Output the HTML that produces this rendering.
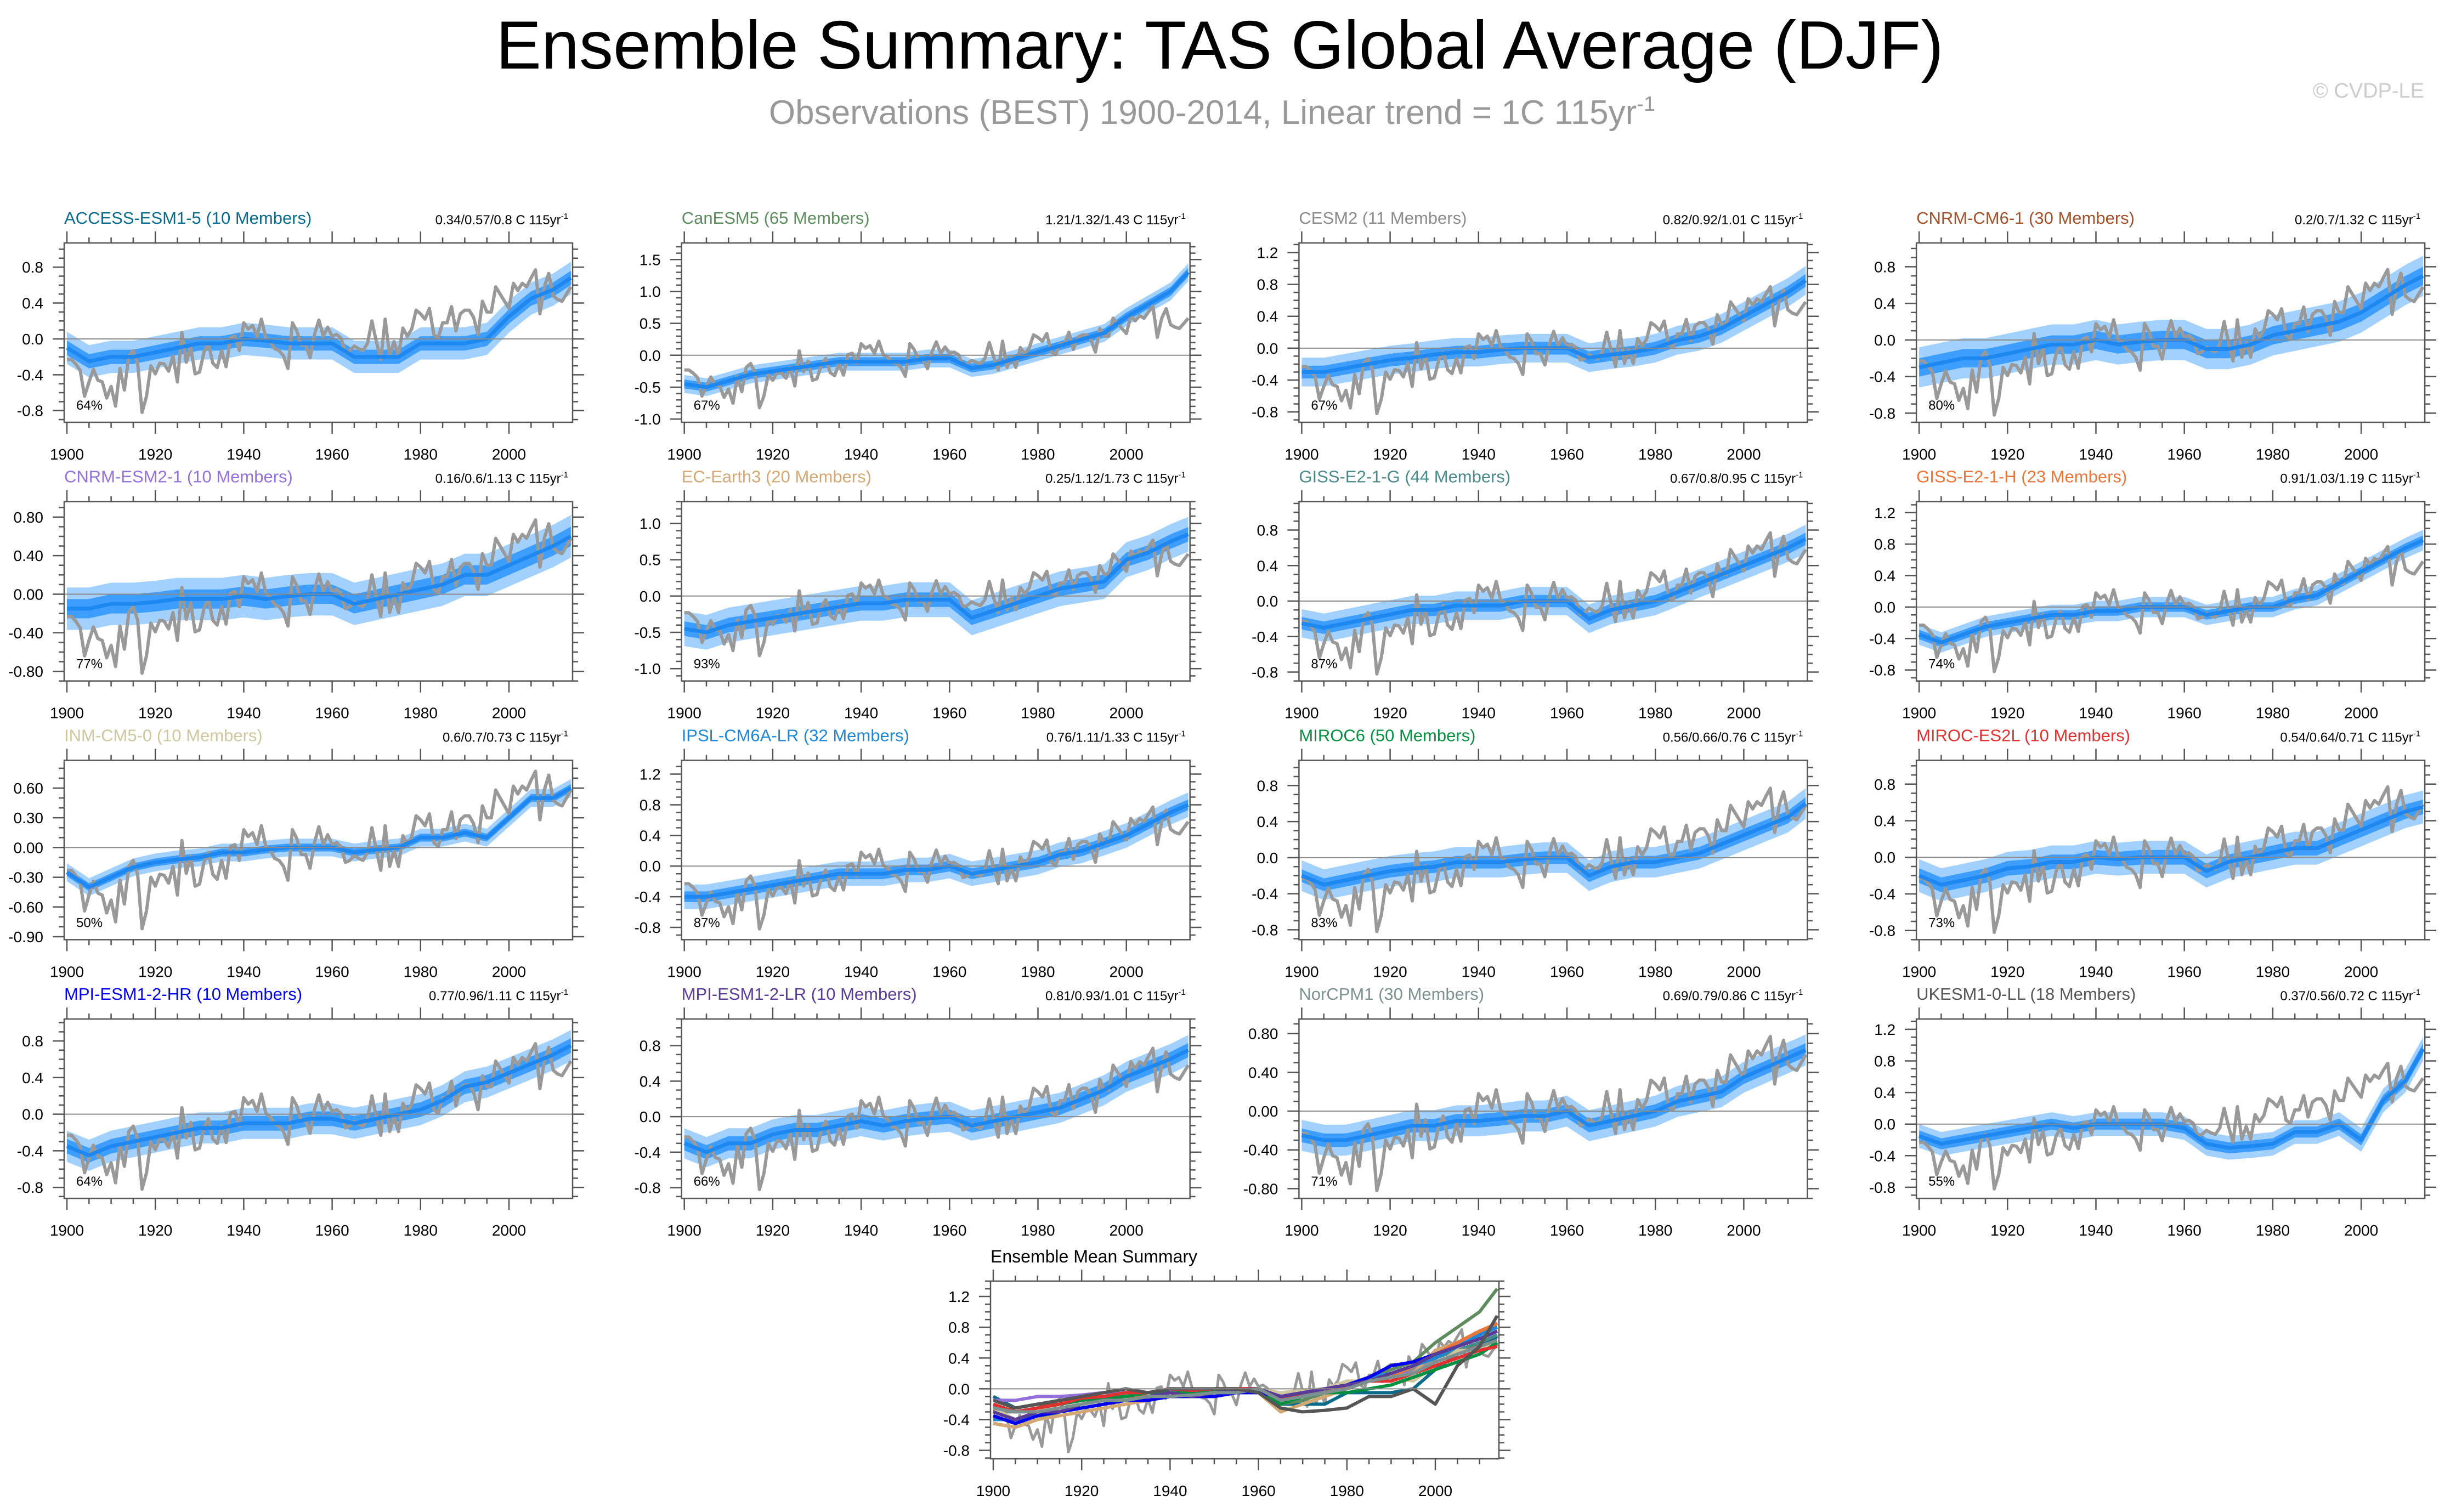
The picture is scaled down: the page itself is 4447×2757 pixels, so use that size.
<!DOCTYPE html>
<html><head><meta charset="utf-8"><title>Ensemble Summary: TAS Global Average (DJF)</title>
<style>
html,body{margin:0;padding:0;background:#fff;}
svg{display:block;font-family:"Liberation Sans",Arial,sans-serif;}
</style></head>
<body>
<svg id="chart" width="4447" height="2757" viewBox="0 0 4447 2757" xmlns="http://www.w3.org/2000/svg">
<text x="2224" y="125" font-size="124" text-anchor="middle" fill="#000">Ensemble Summary: TAS Global Average (DJF)</text>
<text x="2210" y="226" font-size="62" text-anchor="middle" fill="#999">Observations (BEST) 1900-2014, Linear trend = 1C 115yr<tspan dy="-24" font-size="38">-1</tspan></text>
<text x="4420" y="178" font-size="38" text-anchor="end" fill="#ccc">© CVDP-LE</text>
<g id="panels"></g>
</svg>
<script>
// ---------- data ----------
const years = [];
for (let y = 1900; y <= 2014; y++) years.push(y);
const obs = [-0.23,-0.23,-0.28,-0.35,-0.64,-0.48,-0.34,-0.46,-0.48,-0.66,-0.53,-0.75,-0.33,-0.57,-0.19,-0.13,-0.27,-0.82,-0.64,-0.30,
-0.39,-0.27,-0.28,-0.36,-0.19,-0.48,0.07,-0.26,-0.09,-0.39,-0.37,-0.15,-0.05,-0.27,-0.32,-0.13,-0.31,0.01,0.03,-0.13,
0.18,0.11,0.15,0.03,0.22,0.01,-0.03,-0.11,-0.13,-0.19,-0.33,0.18,0.09,-0.07,-0.07,-0.21,0.05,0.21,0.03,0.13,
0.03,0.05,0.01,-0.15,-0.13,-0.08,-0.11,-0.13,-0.05,0.20,-0.03,-0.23,0.22,-0.19,-0.03,-0.19,0.12,0.03,0.11,0.32,
0.28,0.22,0.34,0.05,0.01,0.18,0.18,0.36,0.09,0.28,0.32,0.32,0.24,0.05,0.42,0.30,0.30,0.58,0.50,0.42,
0.34,0.62,0.54,0.62,0.58,0.68,0.77,0.28,0.58,0.73,0.48,0.44,0.42,0.50,0.58];
const meanYears = [1900,1905,1910,1915,1920,1925,1930,1935,1940,1945,1950,1955,1960,1965,1970,1975,1980,1985,1990,1995,2000,2005,2010,2014];
const modelNames = ["ACCESS-ESM1-5","CanESM5","CESM2","CNRM-CM6-1","CNRM-ESM2-1","EC-Earth3","GISS-E2-1-G","GISS-E2-1-H","INM-CM5-0","IPSL-CM6A-LR","MIROC6","MIROC-ES2L","MPI-ESM1-2-HR","MPI-ESM1-2-LR","NorCPM1","UKESM1-0-LL"];
const members = [10,65,11,30,10,20,44,23,10,32,50,10,10,10,30,18];
const trends = ["0.34/0.57/0.8","1.21/1.32/1.43","0.82/0.92/1.01","0.2/0.7/1.32","0.16/0.6/1.13","0.25/1.12/1.73","0.67/0.8/0.95","0.91/1.03/1.19","0.6/0.7/0.73","0.76/1.11/1.33","0.56/0.66/0.76","0.54/0.64/0.71","0.77/0.96/1.11","0.81/0.93/1.01","0.69/0.79/0.86","0.37/0.56/0.72"];
const pcts = [64,67,67,80,77,93,87,74,50,87,83,73,64,66,71,55];
const modelColors = ["#0a6a8a","#5f8c5f","#8c8c8c","#a0522d","#9370db","#d2a874","#4a8a8a","#e8753a","#cfc79f","#1f86d6","#00903f","#e03030","#0000ee","#5a3c96","#7c9090","#555555"];
const yTicks = [[0.8,0.4,0,-0.4,-0.8],[1.5,1,0.5,0,-0.5,-1],[1.2,0.8,0.4,0,-0.4,-0.8],[0.8,0.4,0,-0.4,-0.8],
[0.8,0.4,0,-0.4,-0.8],[1,0.5,0,-0.5,-1],[0.8,0.4,0,-0.4,-0.8],[1.2,0.8,0.4,0,-0.4,-0.8],
[0.6,0.3,0,-0.3,-0.6,-0.9],[1.2,0.8,0.4,0,-0.4,-0.8],[0.8,0.4,0,-0.4,-0.8],[0.8,0.4,0,-0.4,-0.8],
[0.8,0.4,0,-0.4,-0.8],[0.8,0.4,0,-0.4,-0.8],[0.8,0.4,0,-0.4,-0.8],[1.2,0.8,0.4,0,-0.4,-0.8]];
const tickDecimals = [1,1,1,1,2,1,1,1,2,1,1,1,1,1,2,1];
const yMax = [1.07,1.76,1.32,1.06,0.96,1.3,1.12,1.34,0.88,1.38,1.08,1.06,1.04,1.1,0.95,1.33];
const yMin = [-0.93,-1.05,-0.93,-0.9,-0.9,-1.17,-0.9,-0.94,-0.93,-0.96,-0.91,-0.9,-0.92,-0.92,-0.9,-0.94];
const innerSpread = [0.08,0.07,0.08,0.1,0.1,0.1,0.07,0.06,0.04,0.07,0.07,0.08,0.08,0.08,0.07,0.07];
const outerSpread = [0.18,0.14,0.18,0.22,0.22,0.24,0.16,0.13,0.09,0.16,0.17,0.18,0.17,0.17,0.16,0.15];
const meanACCESS = [-0.1,-0.25,-0.2,-0.2,-0.15,-0.1,-0.05,-0.05,0,-0.02,-0.05,-0.05,-0.05,-0.2,-0.2,-0.2,-0.05,-0.05,-0.05,0,0.25,0.45,0.55,0.68];
const meanCanESM5 = [-0.45,-0.5,-0.4,-0.3,-0.25,-0.2,-0.15,-0.1,-0.1,-0.1,-0.1,-0.05,-0.05,-0.2,-0.15,-0.05,0.05,0.15,0.25,0.35,0.6,0.8,1.0,1.3];
const meanCESM2 = [-0.3,-0.3,-0.25,-0.2,-0.15,-0.12,-0.08,-0.05,-0.05,-0.02,0,0,0,-0.12,-0.08,-0.05,0,0.1,0.15,0.25,0.4,0.55,0.7,0.85];
const meanCNRMCM6 = [-0.3,-0.25,-0.2,-0.2,-0.15,-0.1,-0.05,-0.05,0,-0.05,-0.02,0,0,-0.1,-0.1,-0.05,0.05,0.1,0.15,0.2,0.3,0.45,0.6,0.7];
const meanCNRMESM2 = [-0.15,-0.15,-0.1,-0.1,-0.08,-0.05,-0.05,-0.05,-0.02,-0.05,-0.02,0,0,-0.1,-0.05,0,0.05,0.1,0.2,0.2,0.3,0.4,0.5,0.6];
const meanECEarth3 = [-0.45,-0.5,-0.4,-0.35,-0.3,-0.25,-0.2,-0.15,-0.1,-0.1,-0.05,-0.05,-0.05,-0.3,-0.2,-0.1,0,0.1,0.15,0.2,0.5,0.6,0.75,0.85];
const meanGISSG = [-0.25,-0.3,-0.25,-0.2,-0.15,-0.1,-0.1,-0.05,-0.05,-0.05,0,0,0,-0.2,-0.1,-0.05,0,0.1,0.2,0.3,0.4,0.5,0.6,0.7];
const meanGISSH = [-0.35,-0.45,-0.35,-0.25,-0.2,-0.15,-0.1,-0.1,-0.05,-0.05,0,0,0,-0.1,-0.05,0,0,0.1,0.15,0.3,0.45,0.6,0.75,0.85];
const meanINM = [-0.25,-0.4,-0.3,-0.2,-0.15,-0.12,-0.1,-0.05,-0.05,-0.02,0,0,0,-0.05,-0.02,0,0.1,0.1,0.15,0.1,0.3,0.5,0.5,0.6];
const meanIPSL = [-0.4,-0.4,-0.35,-0.3,-0.25,-0.2,-0.15,-0.1,-0.1,-0.1,-0.05,-0.05,0,-0.1,-0.05,0,0.05,0.15,0.2,0.3,0.4,0.55,0.7,0.8];
const meanMIROC6 = [-0.2,-0.3,-0.25,-0.2,-0.15,-0.12,-0.1,-0.05,-0.05,-0.05,-0.02,0,0,-0.2,-0.1,-0.05,-0.05,0,0.05,0.15,0.25,0.35,0.45,0.6];
const meanMIROCES2L = [-0.2,-0.3,-0.25,-0.2,-0.12,-0.1,-0.05,-0.05,0,-0.02,0,0,0,-0.15,-0.05,0,0.05,0.1,0.1,0.2,0.3,0.4,0.5,0.55];
const meanMPIHR = [-0.35,-0.45,-0.35,-0.3,-0.25,-0.2,-0.15,-0.15,-0.1,-0.1,-0.1,-0.05,-0.05,-0.1,-0.05,0,0.05,0.15,0.3,0.35,0.45,0.55,0.65,0.75];
const meanMPILR = [-0.3,-0.4,-0.3,-0.3,-0.2,-0.15,-0.15,-0.1,-0.05,-0.1,-0.05,-0.02,0,-0.1,-0.05,0,0.05,0.1,0.2,0.3,0.45,0.55,0.65,0.75];
const meanNorCPM1 = [-0.25,-0.3,-0.3,-0.25,-0.2,-0.15,-0.15,-0.1,-0.1,-0.08,-0.05,-0.05,0,-0.15,-0.1,-0.05,0,0.1,0.15,0.2,0.35,0.45,0.55,0.63];
const meanUKESM = [-0.15,-0.25,-0.2,-0.15,-0.1,-0.05,0,-0.05,0,0,0,0,-0.05,-0.25,-0.3,-0.28,-0.25,-0.1,-0.1,0,-0.2,0.3,0.55,0.95];
const modelMeans = [meanACCESS,meanCanESM5,meanCESM2,meanCNRMCM6,meanCNRMESM2,meanECEarth3,meanGISSG,meanGISSH,meanINM,meanIPSL,meanMIROC6,meanMIROCES2L,meanMPIHR,meanMPILR,meanNorCPM1,meanUKESM];
const summaryTicks = [1.2,0.8,0.4,0,-0.4,-0.8];
const xTickYears = [1900,1920,1940,1960,1980,2000];

// ---------- drawing ----------
const NS = "http://www.w3.org/2000/svg";
const root = document.getElementById("panels");
function mk(tag, attrs, parent) {
  const e = document.createElementNS(NS, tag);
  for (const k in attrs) e.setAttribute(k, attrs[k]);
  parent.appendChild(e);
  return e;
}
const PW = 927;
function drawPanel(opt) {
  const g = mk("g", {}, root);
  
  
  const L = opt.left, T = opt.top, H = opt.height, lo = opt.ymin, hi = opt.ymax;
  const xs = y => L + 5 + (y - 1900) * 8.06;
  const ys = v => T + (hi - v) / (hi - lo) * H;
  const tk = mk("g", {stroke: "#555", "stroke-width": 2.5}, g);
  
  
  for (let y = 1900; y <= 2014; y += 5) {
    const len = (y % 20 === 0) ? 21 : 10;
    mk("line", {x1: xs(y), x2: xs(y), y1: T, y2: T - len}, tk);
    mk("line", {x1: xs(y), x2: xs(y), y1: T + H, y2: T + H + len}, tk);
  }
  const step = opt.minor;
  for (let v = Math.ceil(lo / step) * step; v <= hi + 1e-9; v += step) {
    const vr = Math.round(v * 1000) / 1000;
    const isMajor = opt.ticks.some(t => Math.abs(t - vr) < 1e-6);
    const len = isMajor ? 21 : 10;
    mk("line", {x1: L, x2: L - len, y1: ys(vr), y2: ys(vr)}, tk);
    mk("line", {x1: L + PW, x2: L + PW + len, y1: ys(vr), y2: ys(vr)}, tk);
  }
  opt.ticks.forEach(t => {
    const lb = mk("text", {x: L - 38, y: ys(t) + 10, "font-size": 28, "text-anchor": "end", fill: "#000"}, g);
    
    
    lb.textContent = t.toFixed(opt.dec);
  });
  xTickYears.forEach(y => {
    const lb = mk("text", {x: xs(y), y: T + H + 68, "font-size": 28, "text-anchor": "middle", fill: "#000"}, g);
    
    
    lb.textContent = y;
  });
  const clipId = "clip" + Math.round(L) + "_" + Math.round(T);
  const cp = mk("clipPath", {id: clipId}, g);
  mk("rect", {x: L, y: T, width: PW, height: H}, cp);
  const inner = mk("g", {"clip-path": "url(#" + clipId + ")"}, g);
  if (opt.draw) opt.draw(inner, xs, ys);
  const z = mk("line", {x1: L, x2: L + PW, y1: ys(0), y2: ys(0), stroke: "#8a8a8a", "stroke-width": 2}, g);
  
  
  if (opt.after) opt.after(inner, xs, ys);
  const box = mk("rect", {x: L, y: T, width: PW, height: H, fill: "none", stroke: "#555", "stroke-width": 2.5}, g);
  
  
  return {g, xs, ys};
}
function linePath(xsArr, vals, xs, ys) {
  return vals.map((v, i) => (i ? "L" : "M") + xs(xsArr[i]).toFixed(1) + "," + ys(v).toFixed(1)).join("");
}
function bandPath(xsArr, vals, w, xs, ys) {
  let d = vals.map((v, i) => (i ? "L" : "M") + xs(xsArr[i]).toFixed(1) + "," + ys(v + w).toFixed(1)).join("");
  for (let i = vals.length - 1; i >= 0; i--) d += "L" + xs(xsArr[i]).toFixed(1) + "," + ys(vals[i] - w).toFixed(1);
  return d + "Z";
}
modelNames.forEach((nm, i) => {
  const col = i % 4, row = Math.floor(i / 4);
  const L = 117 + col * 1125.7, T = 443 + row * 471.7, H = 327;
  const p = drawPanel({
    name: "panel-" + nm.toLowerCase(), left: L, top: T, height: H, ymin: yMin[i], ymax: yMax[i],
    ticks: yTicks[i], dec: tickDecimals[i], minor: 0.1,
    draw: (gg, xs, ys) => {
      const ob = mk("path", {d: bandPath(meanYears, modelMeans[i], outerSpread[i], xs, ys), fill: "#a3d1ff"}, gg);
      
      
      const ib = mk("path", {d: bandPath(meanYears, modelMeans[i], innerSpread[i], xs, ys), fill: "#3d9eff"}, gg);
      
      
    },
    after: (gg, xs, ys) => {
      const ol = mk("path", {d: linePath(years, obs, xs, ys), fill: "none", stroke: "#999", "stroke-width": 6, "stroke-linejoin": "round"}, gg);
      
      
      const ml = mk("path", {d: linePath(meanYears, modelMeans[i], xs, ys), fill: "none", stroke: "#1e88f0", "stroke-width": 7, "stroke-linejoin": "round"}, gg);
      
      
    }
  });
  const t = mk("text", {x: L, y: T - 35, "font-size": 31, fill: modelColors[i]}, p.g);
  
  
  t.textContent = nm + " (" + members[i] + " Members)";
  const tr = mk("text", {x: L + PW - 8, y: T - 34, "font-size": 24, "text-anchor": "end", fill: "#000"}, p.g);
  
  
  tr.textContent = trends[i] + " C 115yr";
  const sup = mk("tspan", {dy: -10, "font-size": 15}, tr);
  sup.textContent = "-1";
  const pc = mk("text", {x: L + 22, y: T + H - 23, "font-size": 24, fill: "#000"}, p.g);
  
  
  pc.textContent = pcts[i] + "%";
});
const sp = drawPanel({
  name: "panel-ensemble-mean-summary", left: 1806, top: 2336, height: 324, ymin: -0.91, ymax: 1.4,
  ticks: summaryTicks, dec: 1, minor: 0.1,
  after: (gg, xs, ys) => {
    const ol = mk("path", {d: linePath(years, obs, xs, ys), fill: "none", stroke: "#999", "stroke-width": 5, "stroke-linejoin": "round"}, gg);
    
    
    modelMeans.forEach((m, i) => {
      const l = mk("path", {d: linePath(meanYears, m, xs, ys), fill: "none", stroke: modelColors[i], "stroke-width": 6, "stroke-linejoin": "round"}, gg);
      
      
    });
  }
});
const st = mk("text", {x: 1806, y: 2302, "font-size": 32, fill: "#000"}, sp.g);


st.textContent = "Ensemble Mean Summary";
</script>
</body></html>
